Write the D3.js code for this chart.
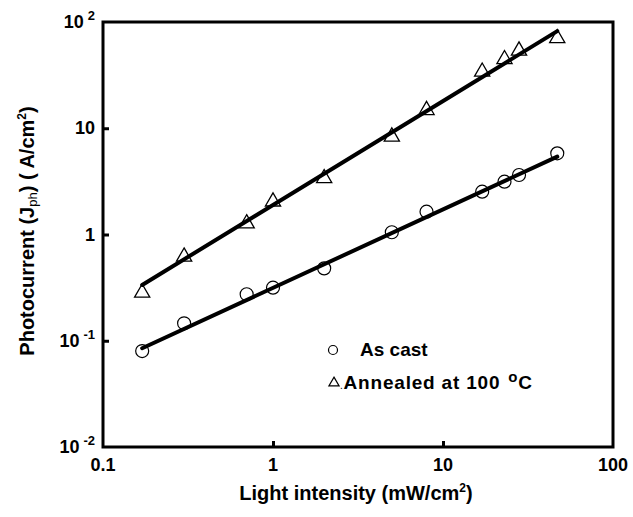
<!DOCTYPE html>
<html>
<head>
<meta charset="utf-8">
<script src="https://cdn.jsdelivr.net/npm/d3@7"></script>
<style>
  body { margin: 0; background: #fff; }
  svg text { font-family: "Liberation Sans", Arial, sans-serif; font-weight: bold; fill: #000; }
</style>
</head>
<body>
<div id="chart"></div>
<script>
const width = 633;
const height = 517;

// light intensity (mW/cm2)
const intensity = [0.17, 0.3, 0.7, 1, 2, 5, 8, 17, 23, 28, 47];
// photocurrent (A/cm2)
const asCast = [0.080, 0.146, 0.274, 0.316, 0.48, 1.05, 1.64, 2.53, 3.14, 3.63, 5.81];
const annealed = [0.283, 0.618, 1.27, 2.04, 3.38, 8.33, 14.8, 34, 44.6, 53.7, 70.3];

// fitted lines, end points
const fitX = [0.17, 47];
const asCastFit = [0.085, 5.4];
const annealedFit = [0.335, 82];

const xTicks = [0.1, 1, 10, 100];
const xTickLabels = ["0.1", "1", "10", "100"];
const yTicks = [100, 10, 1, 0.1, 0.01];
const yTickBase = ["10", "10", "1", "10", "10"];
const yTickExp = ["2", "", "", "-1", "-2"];

const svg = d3.select("#chart").append("svg")
    .attr("width", width)
    .attr("height", height);

const x = d3.scaleLog().domain([0.1, 100]).range([103, 613]);
const y = d3.scaleLog().domain([0.01, 100]).range([447, 22]);

// inner ticks
svg.append("g")
    .attr("transform", `translate(0, ${y(0.01)})`)
    .call(d3.axisBottom(x).tickValues([1, 10]).tickSize(-6).tickFormat(""))
    .call(g => g.select(".domain").remove())
    .call(g => g.selectAll("line").attr("stroke-width", 3));

svg.append("g")
    .attr("transform", `translate(${x(0.1)}, 0)`)
    .call(d3.axisLeft(y).tickValues([0.1, 1, 10]).tickSize(-6).tickFormat(""))
    .call(g => g.select(".domain").remove())
    .call(g => g.selectAll("line").attr("stroke-width", 3));

// frame
svg.append("rect")
    .attr("x", x(0.1))
    .attr("y", y(100))
    .attr("width", x(100) - x(0.1))
    .attr("height", y(0.01) - y(100))
    .attr("fill", "none")
    .attr("stroke", "#000")
    .attr("stroke-width", 3);

// x tick labels
svg.selectAll(".xlab")
    .data(xTicks)
    .enter()
    .append("text")
    .attr("class", "xlab")
    .attr("x", d => x(d))
    .attr("y", 471)
    .attr("text-anchor", "middle")
    .attr("font-size", 18)
    .text((d, i) => xTickLabels[i]);

// y tick labels
yTicks.forEach((v, i) => {
    const t = svg.append("text")
        .attr("x", 95)
        .attr("y", y(v) + 6)
        .attr("text-anchor", "end")
        .attr("font-size", 18);
    t.append("tspan").text(yTickBase[i]);
    if (yTickExp[i]) {
        t.append("tspan")
            .attr("dx", 4)
            .attr("dy", -8)
            .attr("font-size", 13)
            .text(yTickExp[i]);
    }
});

// axis titles
const xt = svg.append("text")
    .attr("x", 356)
    .attr("y", 500)
    .attr("text-anchor", "middle")
    .attr("font-size", 20);
xt.append("tspan").text("Light intensity (mW/cm");
xt.append("tspan").attr("dy", -8).attr("font-size", 12).text("2");
xt.append("tspan").attr("dy", 8).text(")");

const yt = svg.append("text")
    .attr("transform", `translate(34, 231) rotate(-90)`)
    .attr("text-anchor", "middle")
    .attr("font-size", 20);
yt.append("tspan").text("Photocurrent (J");
yt.append("tspan").attr("dy", 3).attr("font-size", 13).attr("font-weight", "normal").text("ph");
yt.append("tspan").attr("dy", -3).text(") ( A/cm");
yt.append("tspan").attr("dy", -8).attr("font-size", 12).text("2");
yt.append("tspan").attr("dy", 8).text(")");

// fitted lines
const line = d3.line()
    .x(d => x(d[0]))
    .y(d => y(d[1]));

[asCastFit, annealedFit].forEach(fit => {
    svg.append("path")
        .datum(fitX.map((v, i) => [v, fit[i]]))
        .attr("d", line)
        .attr("fill", "none")
        .attr("stroke", "#000")
        .attr("stroke-width", 4)
        .attr("stroke-linecap", "round");
});

// markers
svg.selectAll(".circ")
    .data(intensity.map((v, i) => [v, asCast[i]]))
    .enter()
    .append("circle")
    .attr("class", "circ")
    .attr("cx", d => x(d[0]))
    .attr("cy", d => y(d[1]))
    .attr("r", 6.5)
    .attr("fill", "none")
    .attr("stroke", "#000")
    .attr("stroke-width", 1.2);

const tri = d3.symbol().type(d3.symbolTriangle).size(100);
svg.selectAll(".tri")
    .data(intensity.map((v, i) => [v, annealed[i]]))
    .enter()
    .append("path")
    .attr("class", "tri")
    .attr("transform", d => `translate(${x(d[0])}, ${y(d[1])})`)
    .attr("d", tri)
    .attr("fill", "none")
    .attr("stroke", "#000")
    .attr("stroke-width", 1.3);

// legend
svg.append("circle")
    .attr("cx", 333)
    .attr("cy", 350)
    .attr("r", 4.5)
    .attr("fill", "none")
    .attr("stroke", "#000")
    .attr("stroke-width", 1.2);
svg.append("text")
    .attr("x", 360)
    .attr("y", 356)
    .attr("font-size", 19)
    .text("As cast");

svg.append("path")
    .attr("transform", "translate(334, 383)")
    .attr("d", d3.symbol().type(d3.symbolTriangle).size(45))
    .attr("fill", "none")
    .attr("stroke", "#000")
    .attr("stroke-width", 1.2);
const lt = svg.append("text")
    .attr("x", 340)
    .attr("y", 389)
    .attr("font-size", 19)
    .attr("letter-spacing", 0.8);
lt.append("tspan").attr("font-size", 10).attr("font-weight", "normal").text(".");
lt.append("tspan").text("Annealed at 100 ");
lt.append("tspan").attr("dx", 2).attr("dy", -7).attr("font-size", 15).text("o");
lt.append("tspan").attr("dy", 7).text("C");
</script>
</body>
</html>
